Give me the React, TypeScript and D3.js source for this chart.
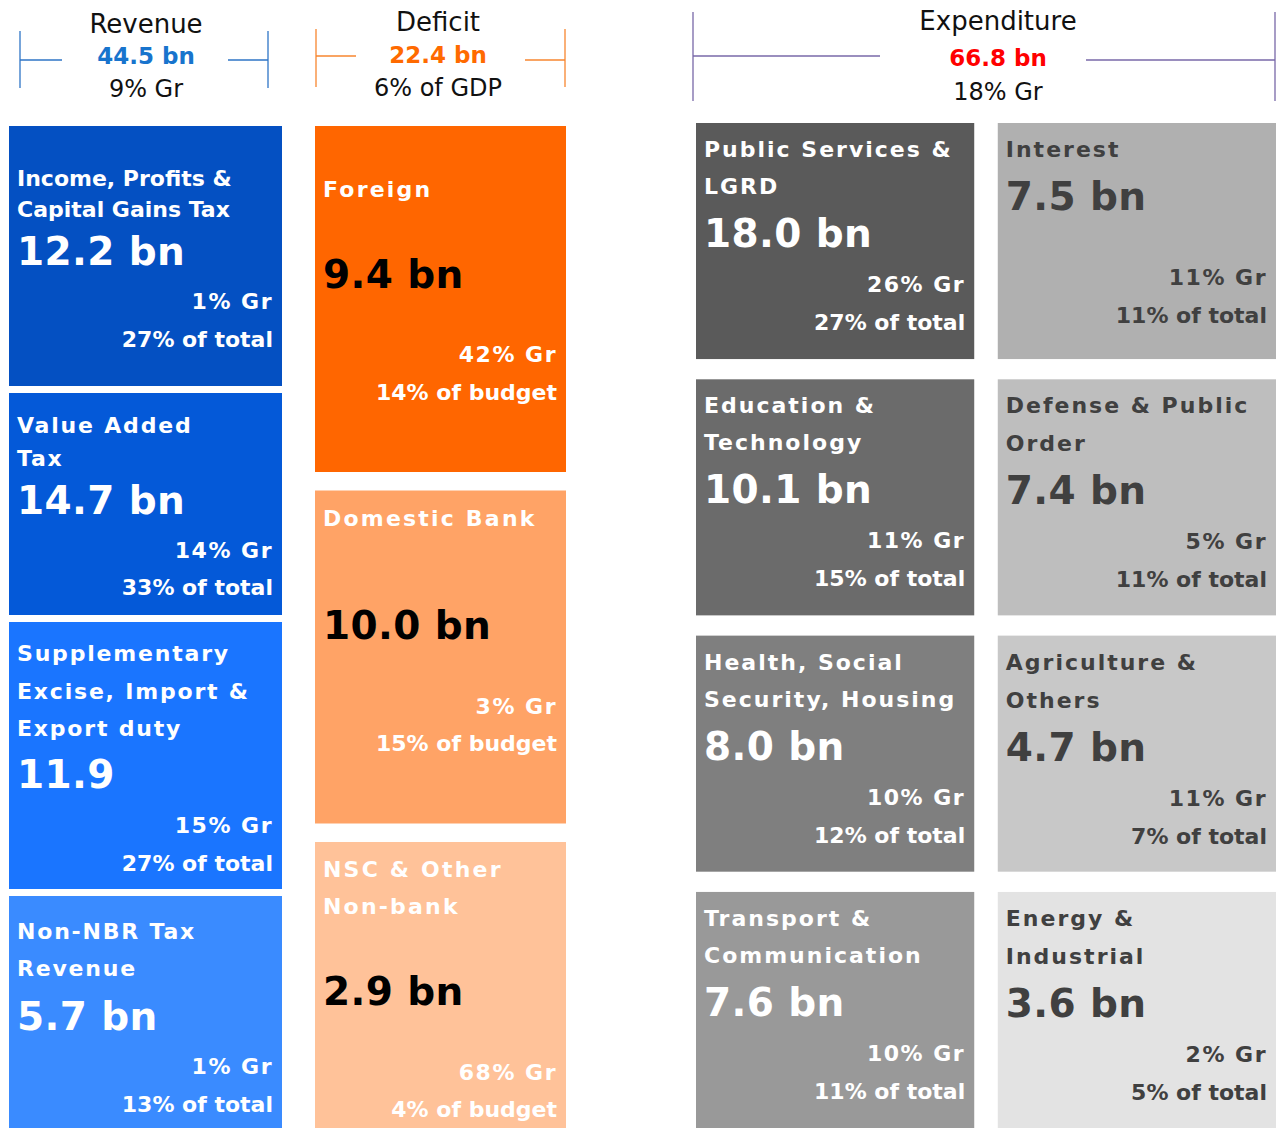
import React from "react";
import * as d3 from "d3";

// ---- data ----
const revenueNames = ["Income, Profits &|Capital Gains Tax", "Value Added|Tax", "Supplementary|Excise, Import &|Export duty", "Non-NBR Tax|Revenue"];
const revenueValues = [12.2, 14.7, 11.9, 5.7];
const revenueUnits = [" bn", " bn", "", " bn"];
const revenueGrowth = [1, 14, 15, 1];
const revenueShare = [27, 33, 27, 13];

const deficitNames = ["Foreign", "Domestic Bank", "NSC & Other|Non-bank"];
const deficitValues = [9.4, 10.0, 2.9];
const deficitGrowth = [42, 3, 68];
const deficitShare = [14, 15, 4];

const expNames = ["Public Services &|LGRD", "Education &|Technology", "Health, Social|Security, Housing", "Transport &|Communication", "Interest", "Defense & Public|Order", "Agriculture &|Others", "Energy &|Industrial"];
const expValues = [18.0, 10.1, 8.0, 7.6, 7.5, 7.4, 4.7, 3.6];
const expGrowth = [26, 11, 10, 10, 11, 5, 11, 2];
const expShare = [27, 15, 12, 11, 11, 11, 7, 5];

const headerTitles = ["Revenue", "Deficit", "Expenditure"];
const headerTotals = [44.5, 22.4, 66.8];
const headerNotes = ["9% Gr", "6% of GDP", "18% Gr"];

// ---- layout / style ----
const W = 1276;
const H = 1128;
const FONT = "'DejaVu Sans', sans-serif";
const revenueRowWeights = [260, 222, 267, 232];
const deficitRowWeights = [346, 333, 286];
const revenueColors = ["#0450C2", "#0459D8", "#1A75FF", "#3A8BFF"];
const deficitColors = ["#FF6600", "#FFA366", "#FFC299"];
const expColors = ["#5A5A5A", "#6B6B6B", "#7F7F7F", "#999999", "#B0B0B0", "#BEBEBE", "#C8C8C8", "#E3E3E3"];
// text flow per box: [first title baseline, line gap, value gap, growth gap, share gap]
const revenueFlow = [[60, 31, 48, 44, 38], [40, 33, 48, 44, 37], [39, 37.5, 52, 45, 38], [43, 37, 54, 44, 38]];
const deficitFlow = [[71, 37, 91, 74, 38], [35, 37, 113, 75, 37], [35, 37, 91, 75, 37]];
const expFlowLeft = [34, 37, 53, 45, 38];
const expFlowRight = [34, 38, 53, 45, 38];

type Box = {
  x0: number; x1: number; y0: number; y1: number;
  fill: string; name: string; value: string; growth: string; share: string;
  flow: number[]; titleColor: string; valueColor: string; subColor: string;
  titleSpacing: number;
};

function stack(weights: number[], y0: number, y1: number, gap: number) {
  const total = d3.sum(weights) + gap * (weights.length - 1);
  const y = d3.scaleLinear().domain([0, total]).range([y0, y1]);
  const starts = weights.map((_, i) => d3.sum(weights.slice(0, i)) + gap * i);
  return weights.map((w, i) => [y(starts[i]), y(starts[i] + w)]);
}

const fmt = d3.format(".1f");

function buildBoxes(): Box[] {
  const boxes: Box[] = [];
  stack(revenueRowWeights, 126, 1128, 7).forEach(([a, b], i) => {
    boxes.push({
      x0: 9, x1: 282, y0: a, y1: b, fill: revenueColors[i],
      name: revenueNames[i], value: fmt(revenueValues[i]) + revenueUnits[i],
      growth: `${revenueGrowth[i]}% Gr`, share: `${revenueShare[i]}% of total`,
      flow: revenueFlow[i], titleColor: "#fff", valueColor: "#fff", subColor: "#fff",
      titleSpacing: i === 0 ? 0 : 1.8,
    });
  });
  stack(deficitRowWeights, 126, 1128, 18.5).forEach(([a, b], i) => {
    boxes.push({
      x0: 315, x1: 566, y0: a, y1: b, fill: deficitColors[i],
      name: deficitNames[i], value: fmt(deficitValues[i]) + " bn",
      growth: `${deficitGrowth[i]}% Gr`, share: `${deficitShare[i]}% of budget`,
      flow: deficitFlow[i], titleColor: "#fff", valueColor: "#000", subColor: "#fff",
      titleSpacing: 2.2,
    });
  });
  const col = d3.scaleBand<number>().domain([0, 1]).range([696, 1276]).paddingInner(0.078);
  const row = d3.scaleBand<number>().domain([0, 1, 2, 3]).range([123, 1128]).paddingInner(0.079);
  expNames.forEach((n, i) => {
    const c = Math.floor(i / 4);
    const r = i % 4;
    const dark = c === 1;
    boxes.push({
      x0: col(c)!, x1: col(c)! + col.bandwidth(), y0: row(r)!, y1: row(r)! + row.bandwidth(),
      fill: expColors[i], name: n, value: fmt(expValues[i]) + " bn",
      growth: `${expGrowth[i]}% Gr`, share: `${expShare[i]}% of total`,
      flow: i === 4 ? [34, 38, 53, 75, 38] : c === 0 ? expFlowLeft : expFlowRight,
      titleColor: dark ? "#404040" : "#fff", valueColor: dark ? "#404040" : "#fff",
      subColor: dark ? "#404040" : "#fff", titleSpacing: 2.0,
    });
  });
  return boxes;
}

const BoxView = ({ b }: { b: Box }) => {
  const lines = b.name.split("|");
  const [t0, lg, vg, gg, sg] = b.flow;
  const titleY = lines.map((_, i) => b.y0 + t0 + i * lg);
  const valueY = titleY[titleY.length - 1] + vg;
  const grY = valueY + gg;
  const shareY = grY + sg;
  const left = b.x0 + 8;
  const right = b.x1 - 9;
  return (
    <g>
      <rect x={b.x0} y={b.y0} width={b.x1 - b.x0} height={b.y1 - b.y0} fill={b.fill} />
      {lines.map((l, i) => (
        <text key={i} x={left} y={titleY[i]} fill={b.titleColor} fontSize={22} fontWeight="bold" letterSpacing={b.titleSpacing}>{l}</text>
      ))}
      <text x={left} y={valueY} fill={b.valueColor} fontSize={39} fontWeight="bold" letterSpacing={0.4}>{b.value}</text>
      <text x={right} y={grY} fill={b.subColor} fontSize={22} fontWeight="bold" textAnchor="end" letterSpacing={1.5}>{b.growth}</text>
      <text x={right} y={shareY} fill={b.subColor} fontSize={22} fontWeight="bold" textAnchor="end">{b.share}</text>
    </g>
  );
};

const headerFrames = [
  { cx: 146, lx: 20, rx: 268, ll: 62, rl: 228, ly: 60, ry: 60, top: 31, bot: 88, color: "#2E75C6", total: "#1874CD", ty: [33, 64, 97] },
  { cx: 438, lx: 316, rx: 565, ll: 356, rl: 525, ly: 56, ry: 60, top: 29, bot: 87, color: "#F7862F", total: "#FF6A00", ty: [31, 63, 96] },
  { cx: 998, lx: 693, rx: 1275, ll: 880, rl: 1086, ly: 56, ry: 60, top: 12, bot: 101, color: "#7868A8", total: "#FF0000", ty: [30, 66, 100] },
];

const Header = ({ i }: { i: number }) => {
  const f = headerFrames[i];
  return (
    <g>
      <g stroke={f.color} strokeWidth={1.3}>
        <line x1={f.lx} x2={f.lx} y1={f.top} y2={f.bot} />
        <line x1={f.lx} x2={f.ll} y1={f.ly} y2={f.ly} />
        <line x1={f.rx} x2={f.rx} y1={f.top} y2={f.bot} />
        <line x1={f.rl} x2={f.rx} y1={f.ry} y2={f.ry} />
      </g>
      <text x={f.cx} y={f.ty[0]} textAnchor="middle" fontSize={26} fill="#111">{headerTitles[i]}</text>
      <text x={f.cx} y={f.ty[1]} textAnchor="middle" fontSize={23} fontWeight="bold" fill={f.total}>{fmt(headerTotals[i])} bn</text>
      <text x={f.cx} y={f.ty[2]} textAnchor="middle" fontSize={24} fill="#111">{headerNotes[i]}</text>
    </g>
  );
};

export default function App() {
  const boxes = buildBoxes();
  return (
    <svg width={W} height={H} style={{ position: "absolute", left: 0, top: 0, fontFamily: FONT }}>
      <rect width={W} height={H} fill="#fff" />
      {headerTitles.map((_, i) => <Header key={i} i={i} />)}
      {boxes.map((b, i) => <BoxView key={i} b={b} />)}
    </svg>
  );
}
